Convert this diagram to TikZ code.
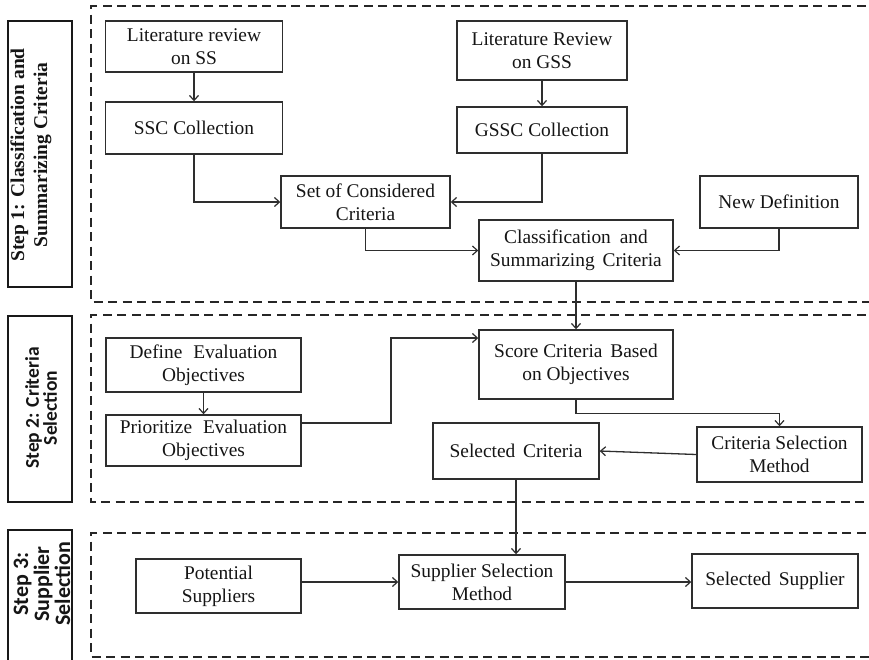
\documentclass[tikz,border=0pt]{standalone}
\usepackage{fontspec}
\setmainfont{Liberation Serif}
\newfontfamily\labelsans{Carlito}
\usetikzlibrary{arrows.meta}
\definecolor{inkgray}{HTML}{2E2E2E}
\definecolor{textdark}{HTML}{151515}

\begin{document}
\begin{tikzpicture}[x=1pt,y=-1pt,
  stepbox/.style={draw=inkgray, line width=1.4pt, inner sep=0pt, align=center,
    text=textdark, font=\fontsize{19.4}{23}\selectfont},
  conn/.style={draw=inkgray, line width=1.3pt,
    -{Straight Barb[length=5pt,width=9pt,line width=1.2pt]}},
  frame/.style={draw=black!85, line width=1.7pt, dash pattern=on 9pt off 5.5pt},
  labframe/.style={draw=black!90, line width=2pt},
  labtext/.style={rotate=90, align=center, inner sep=0pt, text=textdark}
]
\useasboundingbox (0,0) rectangle (869,659);

% dashed stage frames (open to the right)
\draw[frame] (880,6) -- (91,6) -- (91,302) -- (880,302);
\draw[frame] (880,315) -- (91,315) -- (91,502) -- (880,502);
\draw[frame] (880,533) -- (91,533) -- (91,657) -- (880,657);

% stage labels
\draw[labframe] (8,21) rectangle (72,287);
\node[labtext, font=\bfseries\fontsize{19.5}{23}\selectfont] (lab1) at (31,155)
  {Step 1: Classification and\\Summarizing Criteria};
\draw[labframe] (8,316) rectangle (72,502);
\node[labtext, font=\labelsans\bfseries\fontsize{19.5}{18}\selectfont] (lab2) at (41,408)
  {Step 2: Criteria\\Selection};
\draw[labframe] (8,530) rectangle (72,690);
\node[labtext, font=\labelsans\bfseries\fontsize{22}{21}\selectfont] (lab3) at (42,584)
  {Step 3:\\Supplier\\Selection};

% step 1
\node[stepbox, minimum width=177pt, minimum height=51pt] (litss) at (194,46.5) {Literature review\\on SS};
\node[stepbox, minimum width=177pt, minimum height=52pt] (ssc) at (194,128) {SSC Collection};
\node[stepbox, minimum width=170pt, minimum height=59pt] (litgss) at (542,50.5) {Literature Review\\on GSS};
\node[stepbox, minimum width=170pt, minimum height=46pt] (gssc) at (542,130) {GSSC Collection};
\node[stepbox, minimum width=169pt, minimum height=52pt] (setc) at (365.5,202) {Set of Considered\\Criteria};
\node[stepbox, minimum width=158pt, minimum height=52pt] (newdef) at (779,202) {New Definition};
\node[stepbox, minimum width=194pt, minimum height=61pt] (class) at (576,250.5) {Classification\hspace{4pt} and\\Summarizing\hspace{3pt} Criteria};

% step 2
\node[stepbox, minimum width=195pt, minimum height=54pt] (define) at (203.5,365) {Define\hspace{6pt} Evaluation\\Objectives};
\node[stepbox, minimum width=195pt, minimum height=51pt] (prior) at (203.5,440.5) {Prioritize\hspace{6pt} Evaluation\\Objectives};
\node[stepbox, minimum width=194pt, minimum height=69pt] (score) at (576,364.5) {Score Criteria\hspace{3pt} Based\\on Objectives};
\node[stepbox, minimum width=165pt, minimum height=55pt] (csm) at (779.5,454.5) {Criteria Selection\\Method};
\node[stepbox, minimum width=166pt, minimum height=56pt] (selc) at (516,451) {Selected\hspace{3pt} Criteria};

% step 3
\node[stepbox, minimum width=165pt, minimum height=54pt] (pot) at (218.5,586) {Potential\\Suppliers};
\node[stepbox, minimum width=166pt, minimum height=54pt] (ssm) at (482,582) {Supplier Selection\\Method};
\node[stepbox, minimum width=166pt, minimum height=54pt] (sels) at (775,581) {Selected\hspace{3pt} Supplier};

% connectors
\draw[conn] (litss) -- (ssc);
\draw[conn] (litgss) -- (gssc);
\draw[conn] (ssc.south) |- (setc.west);
\draw[conn] (gssc.south) |- (setc.east);
\draw[conn] (setc.south) |- (class.west);
\draw[conn] (newdef.south) |- (class.east);
\draw[conn] (class) -- (score);

\draw[conn] (define) -- (prior);
\coordinate (pbend) at (391,338);
\draw[conn] ([yshift=17.5pt]prior.east) -| (pbend) -- (pbend -| score.west);
\draw[conn] (score.south) -- ++(0,14) -| (csm.north);
\draw[conn] (csm.west) -- (selc.east);
\draw[conn] (selc.south) -- (selc.south |- ssm.north);

\draw[conn] (pot.east |- ssm.west) -- (ssm.west);
\draw[conn] (ssm.east) -- (ssm.east -| sels.west);
\end{tikzpicture}
\end{document}
